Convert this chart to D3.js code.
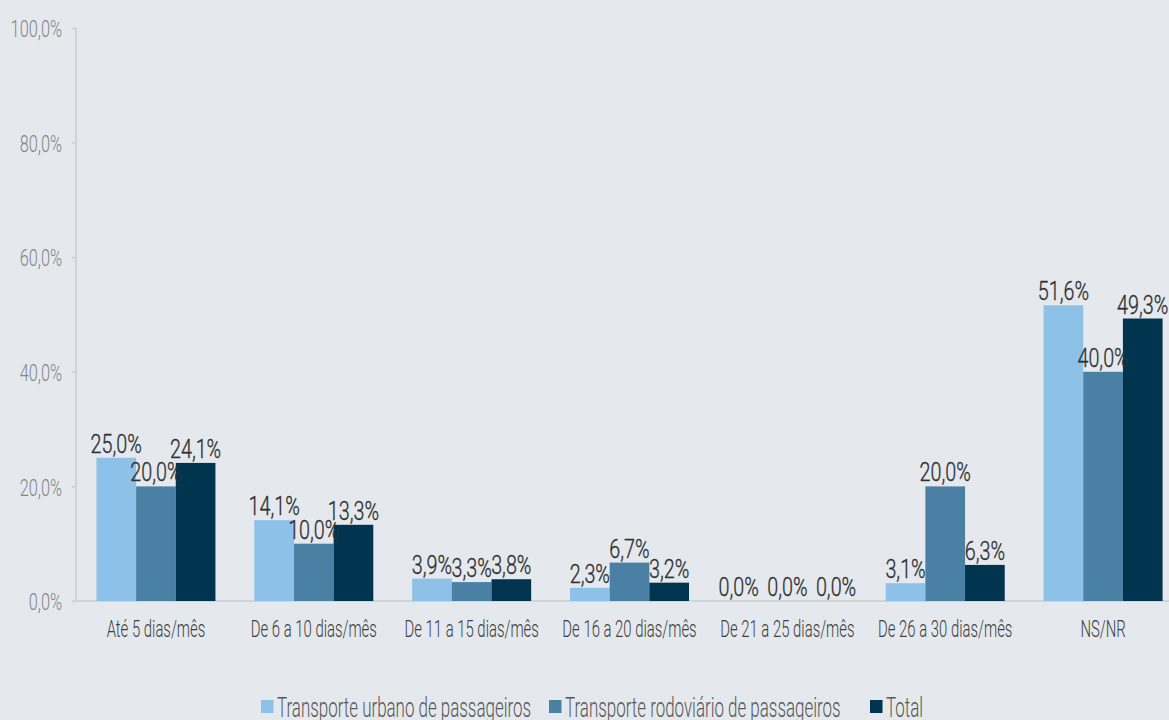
<!DOCTYPE html>
<html>
<head>
<meta charset="utf-8">
<script src="https://cdn.jsdelivr.net/npm/d3@7"></script>
<style>
  html, body { margin: 0; padding: 0; background: #e5e9ed; }
  svg { display: block; }
  text { font-family: Roboto, "Liberation Sans", sans-serif; }
</style>
</head>
<body>
<svg id="chart" width="1169" height="720"></svg>
<script>
// Categories (frequency of use) and series values, in percent
const categories = [
  "Até 5 dias/mês",
  "De 6 a 10 dias/mês",
  "De 11 a 15 dias/mês",
  "De 16 a 20 dias/mês",
  "De 21 a 25 dias/mês",
  "De 26 a 30 dias/mês",
  "NS/NR"
];
const seriesNames = [
  "Transporte urbano de passageiros",
  "Transporte rodoviário de passageiros",
  "Total"
];
const urbano     = [25.0, 14.1, 3.9, 2.3, 0.0, 3.1, 51.6];
const rodoviario = [20.0, 10.0, 3.3, 6.7, 0.0, 20.0, 40.0];
const total      = [24.1, 13.3, 3.8, 3.2, 0.0, 6.3, 49.3];
const yTicks = [0, 20, 40, 60, 80, 100];

const seriesValues = [urbano, rodoviario, total];
const colors = ["#8ec1e8", "#4a80a4", "#00344f"];

const svg = d3.select("#chart");
const fmt = v => d3.format(".1f")(v).replace(".", ",") + "%";

// Condensed look: place text at (x, y) and squeeze it horizontally
function place(sel, xf, yf, sx) {
  sel.attr("x", 0).attr("y", 0)
     .attr("transform", (d, i) => `translate(${xf(d, i)},${yf(d, i)}) scale(${sx},1)`);
}

const x0 = d3.scaleBand().domain(categories).range([77, 1182]).paddingInner(0.246).paddingOuter(0.123);
const x1 = d3.scaleBand().domain(seriesNames).range([0, x0.bandwidth()]);
const y = d3.scaleLinear().domain([0, 100]).range([601, 28]);

// Y axis
const yAxis = svg.append("g").attr("transform", "translate(76,0)")
  .call(d3.axisLeft(y).tickValues(yTicks).tickSize(4).tickPadding(10).tickFormat(fmt));
yAxis.select(".domain").attr("stroke", "#cfd4d4").attr("stroke-width", 2).attr("d", "M0,28V601");
yAxis.selectAll(".tick line").attr("stroke", "#cfd4d4").attr("stroke-width", 2);
yAxis.selectAll(".tick text")
  .attr("fill", "#828688").attr("font-size", 24).attr("font-family", "Roboto, sans-serif")
  .attr("dy", "0.36em").attr("font-weight", 300)
  .call(place, () => -14, () => 0, 0.68);

// X axis baseline
svg.append("line").attr("x1", 72).attr("x2", 1169).attr("y1", 601).attr("y2", 601)
  .attr("stroke", "#cfd4d4").attr("stroke-width", 2);

// Groups of bars
const rows = categories.map((c, i) => ({ cat: c, vals: seriesValues.map((s, j) => ({ name: seriesNames[j], idx: j, v: s[i], color: colors[j] })) }));
const g = svg.selectAll("g.grp").data(rows).join("g").attr("class", "grp")
  .attr("transform", d => `translate(${x0(d.cat)},0)`);

g.selectAll("rect").data(d => d.vals).join("rect")
  .attr("x", d => x1(d.name))
  .attr("y", d => y(d.v))
  .attr("width", x1.bandwidth())
  .attr("height", d => y(0) - y(d.v))
  .attr("fill", d => d.color);

// Value labels; labels of empty bars are spread apart a little so they don't collide
const spread = d => (d.v === 0 ? (d.idx - 1) * 9 : 0);
g.selectAll("text.val").data(d => d.vals).join("text").attr("class", "val")
  .attr("text-anchor", "middle")
  .attr("font-size", 26)
  .attr("font-weight", 300)
  .attr("fill", "#2f3234")
  .attr("stroke", "#2f3234")
  .attr("stroke-width", 0.35)
  .text(d => fmt(d.v))
  .call(place, d => x1(d.name) + x1.bandwidth() / 2 + spread(d), d => y(d.v) - 5, 0.76);

// Category labels
svg.selectAll("text.cat").data(categories).join("text").attr("class", "cat")
  .attr("text-anchor", "middle")
  .attr("font-size", 24)
  .attr("font-weight", 300)
  .attr("fill", "#3c3f41")
  .text(d => d)
  .call(place, d => x0(d) + x0.bandwidth() / 2, () => 637, 0.62);

// Legend
const legendX = [261, 549, 870];
const lg = svg.selectAll("g.leg").data(seriesNames).join("g").attr("class", "leg")
  .attr("transform", (d, i) => `translate(${legendX[i]},700)`);
lg.append("rect").attr("width", 12.5).attr("height", 13).attr("fill", (d, i) => colors[i]);
lg.append("text").attr("font-size", 28).attr("font-weight", 300).attr("fill", "#55585a")
  .text(d => d)
  .call(place, () => 16, () => 16.7, 0.605);
</script>
</body>
</html>
